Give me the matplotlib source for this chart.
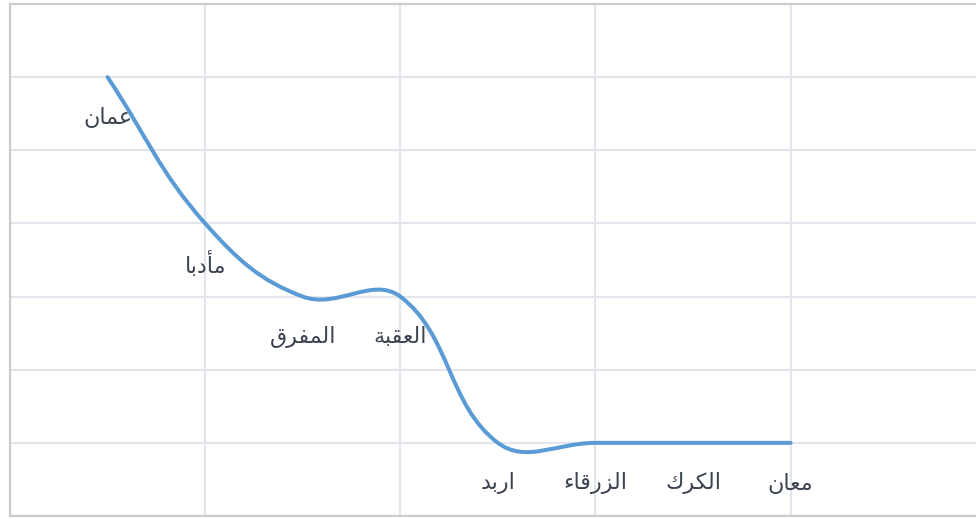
import matplotlib
matplotlib.use("Agg")
import matplotlib.pyplot as plt
import numpy as np
from matplotlib.path import Path
from matplotlib.patches import PathPatch

# Datos
ciudades = ["عمان", "مأدبا", "المفرق", "العقبة", "اربد", "الزرقاء", "الكرك", "معان"]
valores = [5, 3, 2, 2, 0, 0, 0, 0]

# formas de presentacion: aislada, final, inicial, media
formas = {
    "ء": ("\uFE80", None, None, None),
    "أ": ("\uFE83", "\uFE84", None, None),
    "ا": ("\uFE8D", "\uFE8E", None, None),
    "ب": ("\uFE8F", "\uFE90", "\uFE91", "\uFE92"),
    "ة": ("\uFE93", "\uFE94", None, None),
    "د": ("\uFEA9", "\uFEAA", None, None),
    "ر": ("\uFEAD", "\uFEAE", None, None),
    "ز": ("\uFEAF", "\uFEB0", None, None),
    "ع": ("\uFEC9", "\uFECA", "\uFECB", "\uFECC"),
    "ف": ("\uFED1", "\uFED2", "\uFED3", "\uFED4"),
    "ق": ("\uFED5", "\uFED6", "\uFED7", "\uFED8"),
    "ك": ("\uFED9", "\uFEDA", "\uFEDB", "\uFEDC"),
    "ل": ("\uFEDD", "\uFEDE", "\uFEDF", "\uFEE0"),
    "م": ("\uFEE1", "\uFEE2", "\uFEE3", "\uFEE4"),
    "ن": ("\uFEE5", "\uFEE6", "\uFEE7", "\uFEE8"),
}


def dar_forma(texto):
    salida = []
    for i, c in enumerate(texto):
        if c not in formas:
            salida.append(c)
            continue
        prev = texto[i - 1] if i > 0 else None
        sig = texto[i + 1] if i + 1 < len(texto) else None
        une_prev = prev in formas and formas[prev][2] is not None and formas[c][1] is not None
        une_sig = formas[c][2] is not None and sig in formas and formas[sig][1] is not None
        iso, fin, ini, med = formas[c]
        if une_prev and une_sig:
            salida.append(med)
        elif une_prev:
            salida.append(fin)
        elif une_sig:
            salida.append(ini)
        else:
            salida.append(iso)
    return "".join(salida)[::-1]


fig = plt.figure(figsize=(9.76, 5.18), dpi=100)
W, H = 976, 518
ax = fig.add_axes([10 / W, (H - 516) / H, 1 - 10 / W, (516 - 4) / H])
ax.set_xlim(-1, 8.9)
ax.set_ylim(-1, 6)
ax.set_xticks([-1, 1, 3, 5, 7])
ax.set_yticks(range(-1, 7))
ax.tick_params(length=0, labelleft=False, labelbottom=False)
ax.grid(True, color="#e2e6ec", linewidth=1.5)
ax.set_axisbelow(True)
for s in ["top", "left", "bottom"]:
    ax.spines[s].set_color("#cccccc")
    ax.spines[s].set_linewidth(1.6)
ax.spines["right"].set_visible(False)

# curva tipo spline (tension 0.4) en coordenadas de pantalla
x = np.arange(len(valores))
pts = ax.transData.transform(np.column_stack([x, valores]))
t = 0.4
ctrl_prev = []
ctrl_next = []
for i in range(len(pts)):
    p0 = pts[i - 1] if i > 0 else pts[i]
    p1 = pts[i]
    p2 = pts[i + 1] if i + 1 < len(pts) else pts[i]
    d01 = np.hypot(*(p1 - p0))
    d12 = np.hypot(*(p2 - p1))
    s01 = d01 / (d01 + d12)
    s12 = d12 / (d01 + d12)
    ctrl_prev.append(p1 - t * s01 * (p2 - p0))
    ctrl_next.append(p1 + t * s12 * (p2 - p0))

verts = [pts[0]]
codes = [Path.MOVETO]
for i in range(len(pts) - 1):
    verts += [ctrl_next[i], ctrl_prev[i + 1], pts[i + 1]]
    codes += [Path.CURVE4] * 3
verts = ax.transData.inverted().transform(np.array(verts))
ax.add_patch(PathPatch(Path(verts, codes), facecolor="none", edgecolor="#5b9bd5",
                       linewidth=2.9, capstyle="round", joinstyle="round", zorder=3))

for xi, v, nombre in zip(x, valores, ciudades):
    ax.annotate(dar_forma(nombre), (xi, v), xytext=(0, -29), textcoords="offset points",
                ha="center", va="center", fontsize=16, color="#3c4350",
                family="DejaVu Sans", zorder=4)

fig.savefig("out.png", dpi=100)
